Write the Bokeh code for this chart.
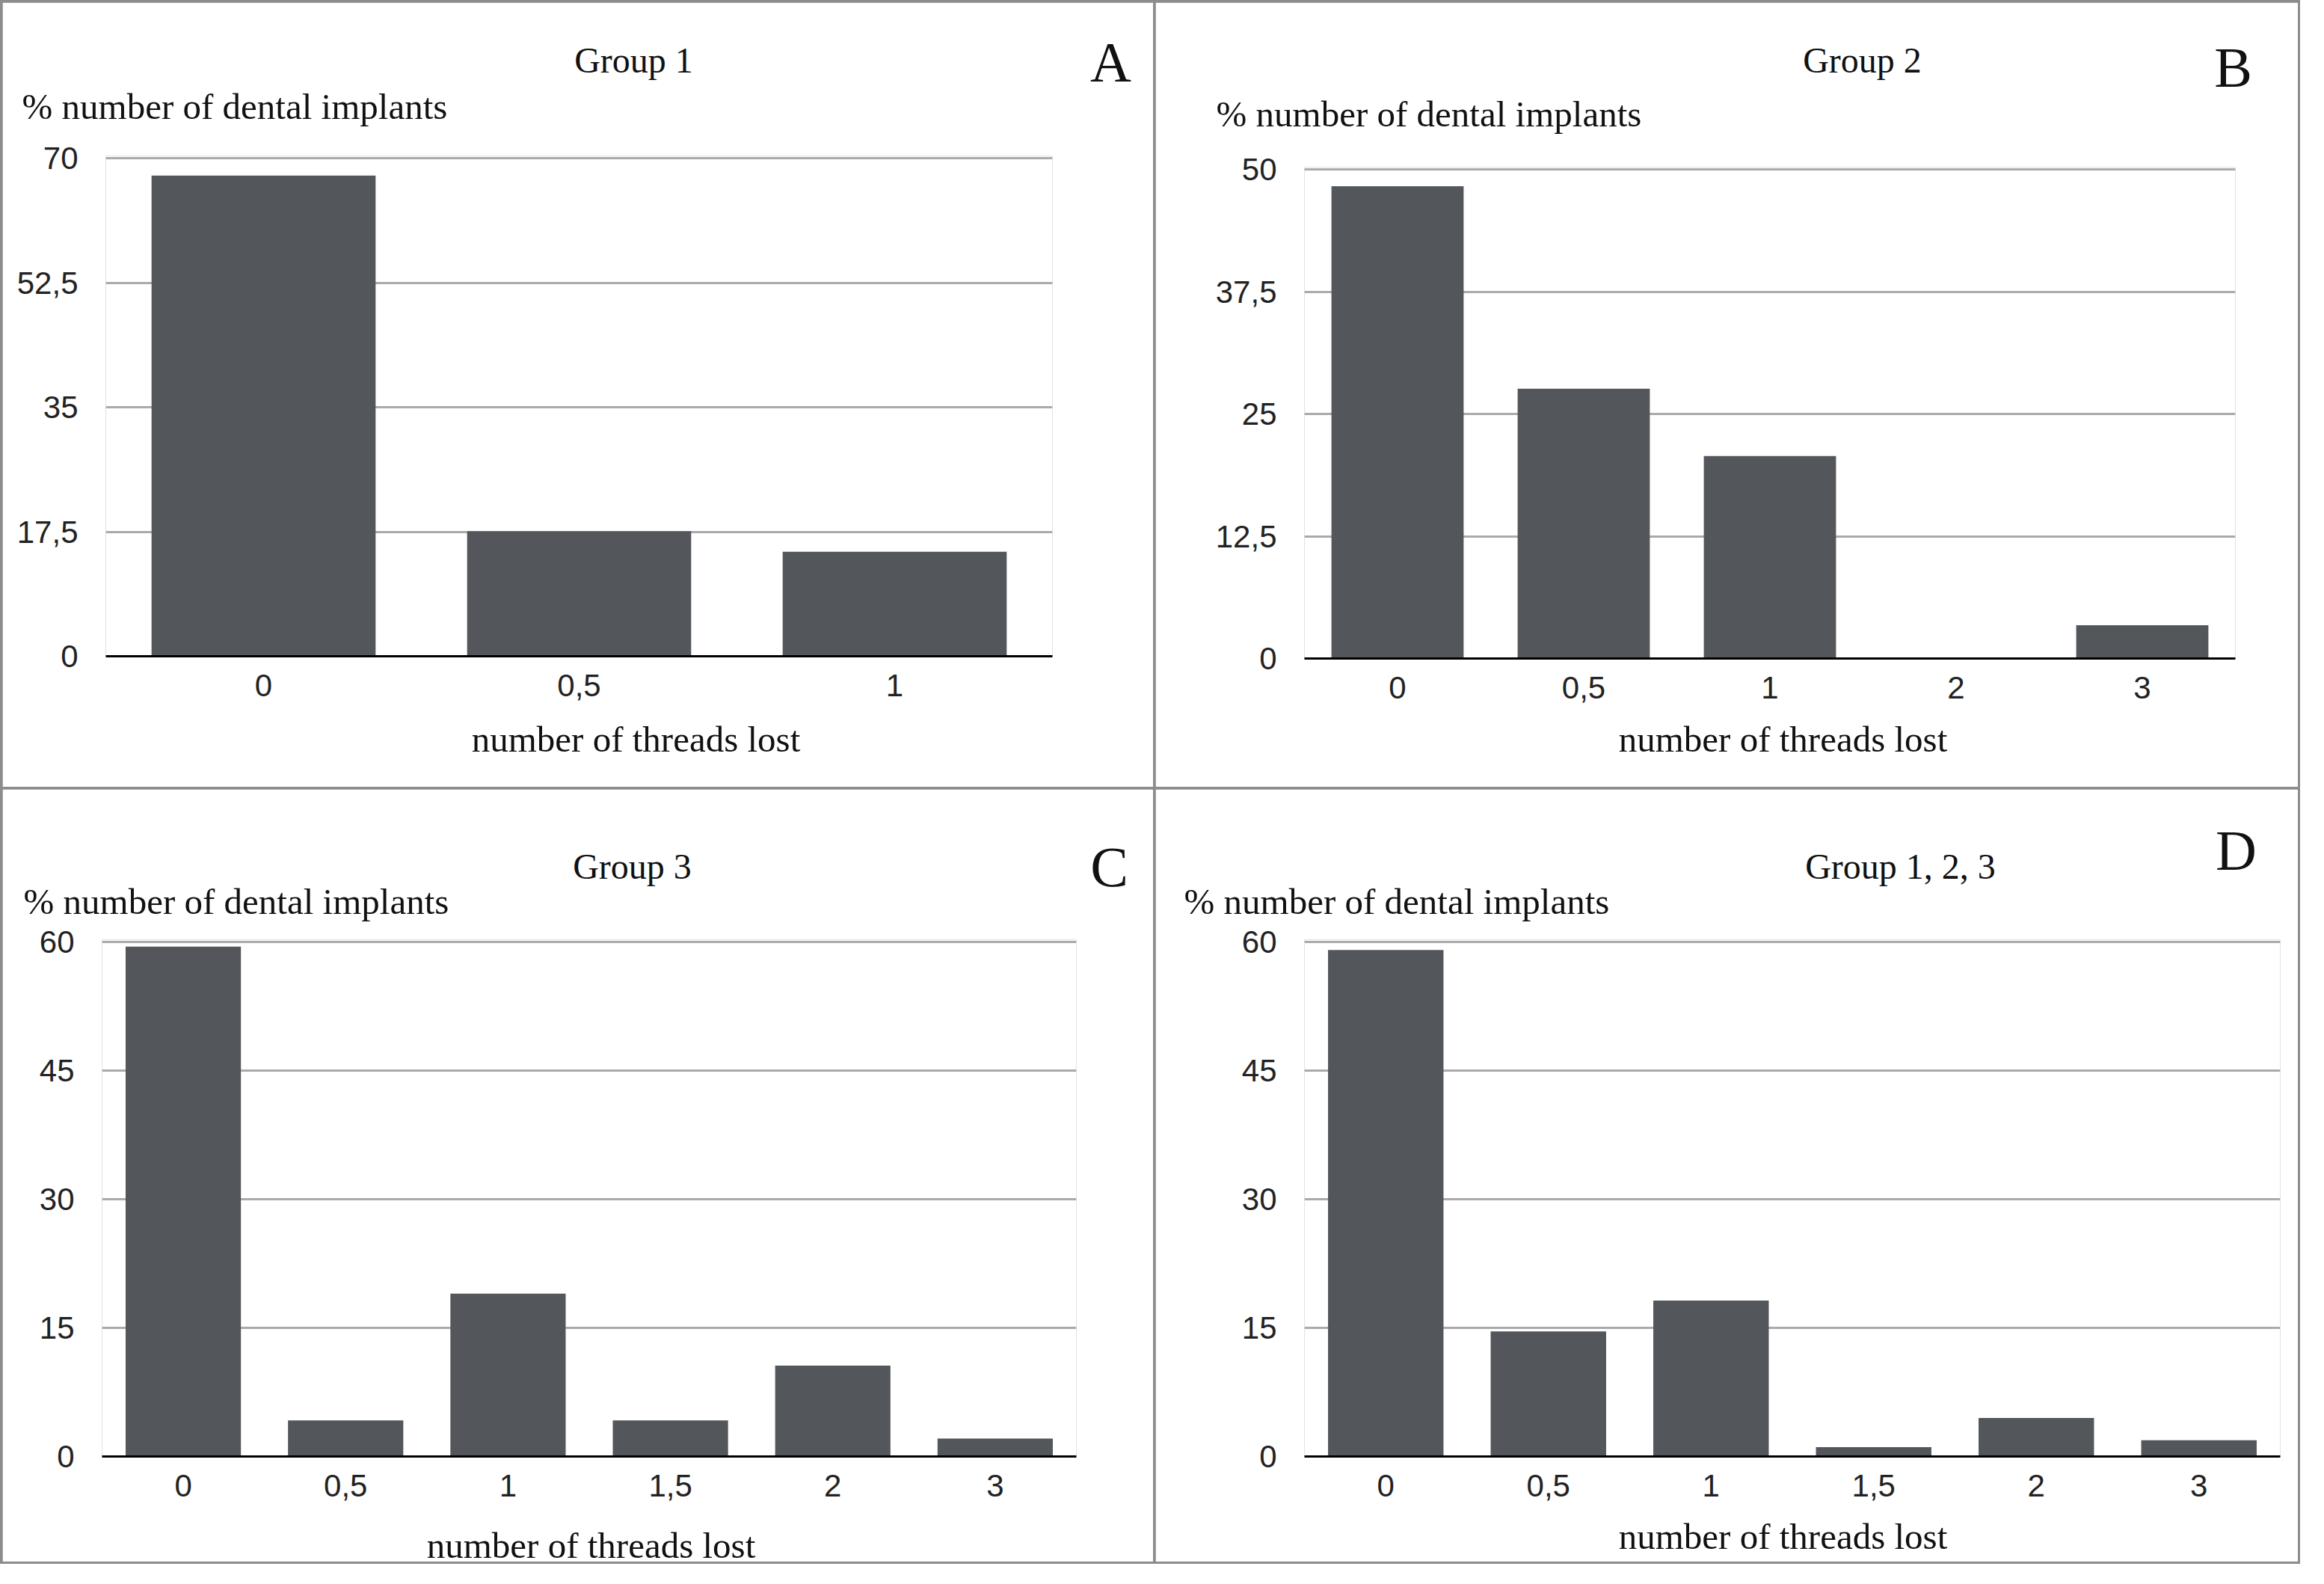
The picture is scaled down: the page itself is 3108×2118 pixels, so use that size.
from bokeh.plotting import figure
from bokeh.models import FactorRange, Range1d, Label, FixedTicker
from bokeh.layouts import column, row
from bokeh.embed import file_html
from bokeh.resources import INLINE

# ---------------- data ----------------
cats_a = ["0", "0,5", "1"]
vals_a = [67.6, 17.6, 14.7]

cats_b = ["0", "0,5", "1", "2", "3"]
vals_b = [48.3, 27.6, 20.7, 0.0, 3.4]

cats_c = ["0", "0,5", "1", "1,5", "2", "3"]
vals_c = [59.5, 4.2, 19.0, 4.2, 10.6, 2.1]

cats_d = ["0", "0,5", "1", "1,5", "2", "3"]
vals_d = [59.1, 14.6, 18.2, 1.1, 4.5, 1.9]

yticks_a = [0, 17.5, 35, 52.5, 70]
ylabels_a = ["0", "17,5", "35", "52,5", "70"]
yticks_b = [0, 12.5, 25, 37.5, 50]
ylabels_b = ["0", "12,5", "25", "37,5", "50"]
yticks_c = [0, 15, 30, 45, 60]
ylabels_c = ["0", "15", "30", "45", "60"]
yticks_d = [0, 15, 30, 45, 60]
ylabels_d = ["0", "15", "30", "45", "60"]

titles = ["Group 1", "Group 2", "Group 3", "Group 1, 2, 3"]
letters = ["A", "B", "C", "D"]
ylab_text = "% number of dental implants"
xlab_text = "number of threads lost"

SERIF = "Liberation Serif"
SANS = "Liberation Sans"
BAR = "#53575c"
GRID = "#aaaaaa"
BORDER = "#8c8c8c"
PAD = 1.005  # small headroom so the top gridline is drawn


def txt(x, y, text, size, align):
    # canvas units: pixels from the canvas' top-left corner
    return Label(x=x, y=y, x_units="canvas", y_units="canvas", text=text,
                 text_font=SERIF, text_font_size=size, text_align=align,
                 text_baseline="alphabetic", text_color="#111111")


def panel(cats, vals, yticks, ylabels, title, letter, g):
    fh = round(g["fh"] * PAD)
    ft = g["ft"] - (fh - g["fh"])
    p = figure(
        width=g["w"], height=g["h"],
        x_range=FactorRange(factors=cats, range_padding=0),
        y_range=Range1d(0, yticks[-1] * PAD),
        min_border_left=g["fl"], min_border_right=g["w"] - g["fl"] - g["fw"],
        min_border_top=ft, min_border_bottom=g["h"] - ft - fh,
        output_backend="svg", toolbar_location=None, tools="",
    )
    p.title.visible = False
    p.outline_line_color = None
    p.background_fill_color = "white"
    p.border_fill_color = "white"

    p.vbar(x=cats, top=vals, bottom=0, width=0.71, fill_color=BAR, line_color=None)

    p.yaxis.ticker = FixedTicker(ticks=yticks)
    p.yaxis.major_label_overrides = {t: l for t, l in zip(yticks, ylabels)}
    p.yaxis.axis_line_color = None
    p.yaxis.major_tick_line_color = None
    p.yaxis.major_tick_out = 0
    p.yaxis.major_tick_in = 0
    p.yaxis.minor_tick_line_color = None
    p.yaxis.major_label_standoff = 37
    p.yaxis.major_label_text_font = SANS
    p.yaxis.major_label_text_font_size = "42px"
    p.yaxis.major_label_text_color = "#222222"

    p.ygrid.ticker = FixedTicker(ticks=yticks[1:])
    p.ygrid.grid_line_color = GRID
    p.ygrid.grid_line_width = 3
    p.xgrid.grid_line_color = None

    p.xaxis.axis_line_color = "black"
    p.xaxis.axis_line_width = 3
    p.xaxis.major_tick_line_color = None
    p.xaxis.major_tick_out = 0
    p.xaxis.major_tick_in = 0
    p.xaxis.minor_tick_line_color = None
    p.xaxis.major_label_standoff = 24
    p.xaxis.major_label_text_font = SANS
    p.xaxis.major_label_text_font_size = "42px"
    p.xaxis.major_label_text_color = "#222222"

    # texts live in the side panels (not clipped to the frame)
    p.add_layout(txt(g["yx"], g["yy"], ylab_text, "49px", "left"), "above")
    p.add_layout(txt(g["tx"], g["ty"], title, "48px", "center"), "above")
    p.add_layout(txt(g["xx"], g["xy"], xlab_text, "49px", "center"), "below")
    p.add_layout(txt(g["lx"], g["ly"], letter, "76px", "center"), g["lside"])
    return p


geo_a = dict(w=1539, h=1049, fl=138, fw=1266, ft=208, fh=666,
             tx=844, ty=77, yx=26, yy=139, xx=847, xy=985, lx=1482, ly=79, lside="right")
geo_b = dict(w=1528, h=1049, fl=199, fw=1245, ft=223, fh=654,
             tx=945, ty=77, yx=81, yy=149, xx=839, xy=985, lx=1441, ly=86, lside="right")
geo_c = dict(w=1539, h=1033, fl=133, fw=1303, ft=204, fh=688,
             tx=842, ty=103, yx=28, yy=150, xx=787, xy=1011, lx=1480, ly=103, lside="right")
geo_d = dict(w=1528, h=1033, fl=199, fw=1305, ft=204, fh=688,
             tx=996, ty=103, yx=38, yy=150, xx=839, xy=999, lx=1445, ly=81, lside="left")

pa = panel(cats_a, vals_a, yticks_a, ylabels_a, titles[0], letters[0], geo_a)
pb = panel(cats_b, vals_b, yticks_b, ylabels_b, titles[1], letters[1], geo_b)
pc = panel(cats_c, vals_c, yticks_c, ylabels_c, titles[2], letters[2], geo_c)
pd_ = panel(cats_d, vals_d, yticks_d, ylabels_d, titles[3], letters[3], geo_d)

# each chart wrapped on its own so that neighbouring frames are not forced into line
inner = column(row(column(pa), column(pb), spacing=3),
               row(column(pc), column(pd_), spacing=3),
               spacing=3, margin=(3, 3, 3, 3))
layout = column(inner, styles={"background-color": BORDER})
open("out.html", "w").write(file_html(layout, INLINE))
